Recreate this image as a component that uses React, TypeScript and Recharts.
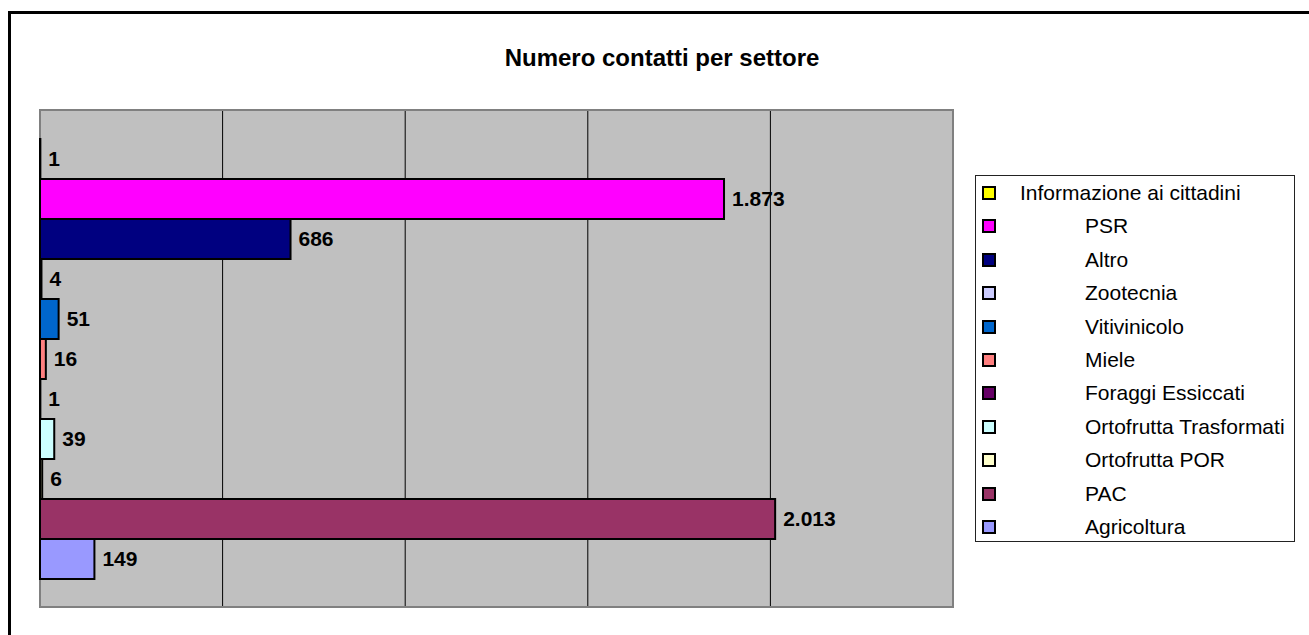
import React from 'react';
import { BarChart, Bar, XAxis, YAxis, CartesianGrid, LabelList, ReferenceArea } from 'recharts';

// series, top to bottom as in the legend
const seriesNames = [
    'Informazione ai cittadini',
    'PSR',
    'Altro',
    'Zootecnia',
    'Vitivinicolo',
    'Miele',
    'Foraggi Essiccati',
    'Ortofrutta Trasformati',
    'Ortofrutta POR',
    'PAC',
    'Agricoltura',
];
const seriesValues = [1, 1873, 686, 4, 51, 16, 1, 39, 6, 2013, 149];
const seriesColors = [
    '#FFFF00', '#FF00FF', '#000080', '#CCCCFF', '#0066CC', '#FF8080',
    '#660066', '#CCFFFF', '#FFFFCC', '#993366', '#9999FF',
];
const gridTicks = [500, 1000, 1500, 2000];

const FONT = 'Arial, "Liberation Sans", sans-serif';

// italian thousands separator: 1873 -> 1.873
const fmt = (v: any) => String(v).replace(/\B(?=(\d{3})+(?!\d))/g, '.');

const row: Record<string, any> = { name: 'settori' };
seriesNames.forEach((n, i) => { row['s' + i] = seriesValues[i]; });
const data = [row];

const LegendBox = () => (
    <div style={{
        position: 'absolute', left: 975, top: 175, width: 320, height: 367,
        border: '1px solid #222', background: '#fff', boxSizing: 'border-box',
    }}>
        {seriesNames.map((n, i) => (
            <div key={n} style={{ position: 'relative', height: 33.4 }}>
                <div style={{
                    position: 'absolute', left: 6, top: 10, width: 14, height: 14,
                    background: seriesColors[i], border: '2px solid #000', boxSizing: 'border-box',
                }} />
                <div style={{
                    position: 'absolute', left: i === 0 ? 44 : 109, top: 5,
                    fontSize: 21, lineHeight: '24px', color: '#000', whiteSpace: 'nowrap',
                }}>{n}</div>
            </div>
        ))}
    </div>
);

export default function App() {
    return (
        <div style={{
            position: 'fixed', left: 0, top: 0, width: 1309, height: 635,
            overflow: 'hidden', background: '#fff', fontFamily: FONT,
        }}>
            {/* outer frame, only top/left edges are inside the picture */}
            <div style={{
                position: 'absolute', left: 8, top: 11, width: 1400, height: 700,
                borderTop: '3px solid #000', borderLeft: '3px solid #000',
            }} />
            <div style={{
                position: 'absolute', left: 0, top: 44, width: 1324, textAlign: 'center',
                fontSize: 24, fontWeight: 'bold', color: '#000',
            }}>Numero contatti per settore</div>

            <div style={{ position: 'absolute', left: 0, top: 0 }}>
                <BarChart
                    width={1309}
                    height={635}
                    data={data}
                    layout="vertical"
                    margin={{ top: 110, right: 356, bottom: 28, left: 40 }}
                    barCategoryGap={29}
                    barGap={0}
                >
                    <CartesianGrid horizontal={false} stroke="#000" fill="#C0C0C0" strokeWidth={1} />
                    <XAxis type="number" domain={[0, 2500]} ticks={gridTicks} hide />
                    <YAxis type="category" dataKey="name" hide />
                    <ReferenceArea x1={0} x2={2500} fill="none" stroke="#808080" strokeWidth={2} ifOverflow="visible" />
                    {seriesNames.map((n, i) => (
                        <Bar
                            key={n}
                            dataKey={'s' + i}
                            name={n}
                            fill={seriesColors[i]}
                            stroke="#000"
                            strokeWidth={2}
                            isAnimationActive={false}
                        >
                            <LabelList
                                dataKey={'s' + i}
                                position="right"
                                offset={8}
                                formatter={fmt}
                                style={{ fontFamily: FONT, fontSize: 21, fontWeight: 'bold', fill: '#000' }}
                            />
                        </Bar>
                    ))}
                </BarChart>
            </div>

            <LegendBox />
        </div>
    );
}
